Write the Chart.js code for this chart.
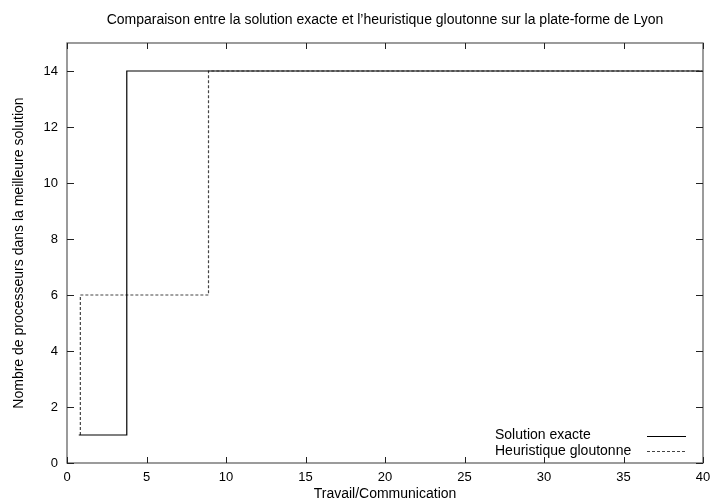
<!DOCTYPE html>
<html>
<head>
<meta charset="utf-8">
<script src="https://cdn.jsdelivr.net/npm/chart.js@4/dist/chart.umd.min.js"></script>
<style>
html,body{margin:0;padding:0;background:#fff;}
#wrap{width:710px;height:504px;}
</style>
</head>
<body>
<div id="wrap"><canvas id="c" width="710" height="504"></canvas></div>
<script>
const titleText = "Comparaison entre la solution exacte et l\u2019heuristique gloutonne sur la plate-forme de Lyon";
const xTitle = "Travail/Communication";
const yTitle = "Nombre de processeurs dans la meilleure solution";
const xTicks = [0, 5, 10, 15, 20, 25, 30, 35, 40];
const yTicks = [0, 2, 4, 6, 8, 10, 12, 14];
const exactLabel = "Solution exacte";
const exactX = [0.74, 3.76, 40];
const exactY = [1, 14, 14];
const heurLabel = "Heuristique gloutonne";
const heurX = [0.84, 0.84, 8.9, 40];
const heurY = [1, 6, 14, 14];

const FONT = "'Liberation Sans', Arial, Helvetica, sans-serif";
Chart.defaults.font.family = FONT;
Chart.defaults.color = '#000';

const toPts = (xs, ys) => xs.map((x, i) => ({x: x, y: ys[i]}));

const framePlugin = {
  id: 'frame',
  afterDraw(chart) {
    const ctx = chart.ctx, a = chart.chartArea;
    const xs = chart.scales.x, ys = chart.scales.y;
    ctx.save();
    // title centred over the plot area
    ctx.font = '14px ' + FONT;
    ctx.fillStyle = '#000';
    ctx.textAlign = 'center';
    ctx.textBaseline = 'middle';
    ctx.fillText(titleText, (a.left + a.right) / 2, 20);
    // frame
    ctx.strokeStyle = '#666';
    ctx.lineWidth = 1.3;
    ctx.strokeRect(a.left, a.top, a.right - a.left, a.bottom - a.top);
    ctx.strokeStyle = '#222';
    ctx.lineWidth = 1;
    const L = 6;
    ctx.beginPath();
    xTicks.forEach(v => {
      const p = Math.round(xs.getPixelForValue(v)) + 0.5;
      ctx.moveTo(p, a.bottom); ctx.lineTo(p, a.bottom - L);
      ctx.moveTo(p, a.top); ctx.lineTo(p, a.top + L);
    });
    yTicks.forEach(v => {
      const p = Math.round(ys.getPixelForValue(v)) + 0.5;
      ctx.moveTo(a.left, p); ctx.lineTo(a.left + L + 1, p);
      ctx.moveTo(a.right, p); ctx.lineTo(a.right - L - 1, p);
    });
    ctx.stroke();
    // key inside plot, bottom right
    ctx.textAlign = 'left';
    const ds = chart.data.datasets;
    const tx = a.left + 428, sx0 = a.left + 580, sx1 = a.left + 619;
    const y0 = a.bottom - 27.5, dy = 15.5;
    ds.forEach((d, i) => {
      const y = y0 + i * dy;
      ctx.fillText(d.label, tx, y);
      ctx.beginPath();
      ctx.strokeStyle = d.borderColor;
      ctx.lineWidth = d.borderWidth;
      ctx.setLineDash(d.borderDash || []);
      ctx.moveTo(sx0, Math.round(y) + 0.5); ctx.lineTo(sx1, Math.round(y) + 0.5);
      ctx.stroke();
      ctx.setLineDash([]);
    });
    ctx.restore();
  }
};

new Chart(document.getElementById('c'), {
  type: 'line',
  data: {
    datasets: [
      {label: exactLabel, data: toPts(exactX, exactY), stepped: 'before',
       borderColor: '#000', borderWidth: 1.2, pointRadius: 0, fill: false},
      {label: heurLabel, data: toPts(heurX, heurY), stepped: 'before',
       borderColor: '#444', borderWidth: 1.2, borderDash: [3, 2], pointRadius: 0, fill: false}
    ]
  },
  options: {
    responsive: false,
    animation: false,
    layout: {padding: {left: 0, right: 7, top: 43, bottom: 0}},
    plugins: {
      legend: {display: false},
      tooltip: {enabled: false},
      title: {display: false}
    },
    scales: {
      x: {
        type: 'linear', min: 0, max: 40,
        afterBuildTicks: s => { s.ticks = xTicks.map(v => ({value: v})); },
        afterFit: s => { s.height = 41; s.paddingRight = 0; },
        grid: {display: false, drawTicks: false},
        border: {display: false},
        ticks: {padding: 7, font: {size: 13}, maxRotation: 0, autoSkip: false},
        title: {display: true, text: xTitle, font: {size: 14}, padding: {top: 0, bottom: 1}}
      },
      y: {
        type: 'linear', min: 0, max: 15,
        afterBuildTicks: s => { s.ticks = yTicks.map(v => ({value: v})); },
        afterFit: s => { s.width = 67; s.paddingTop = 0; },
        grid: {display: false, drawTicks: false},
        border: {display: false},
        ticks: {padding: 9, font: {size: 13}, autoSkip: false},
        title: {display: true, text: yTitle, font: {size: 14}, padding: {top: 11, bottom: 0}}
      }
    }
  },
  plugins: [framePlugin]
});
</script>
</body>
</html>
